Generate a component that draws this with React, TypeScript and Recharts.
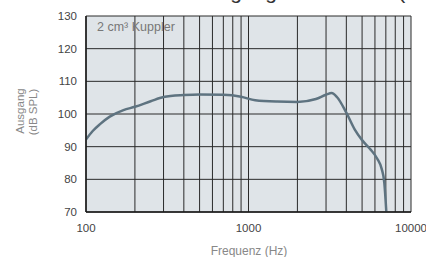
import { LineChart, Line, XAxis, YAxis, CartesianGrid } from 'recharts';

// Frequenzgang, 2 cm³ Kuppler
const frequencies = [
  100, 110, 122, 140, 170, 200, 250, 300, 400, 500, 700, 900, 1100, 1500, 2000,
  2600, 3000, 3250, 3500, 4000, 4500, 5000, 5600, 6200, 6600, 6850, 7050,
];
const levels = [
  92.2, 94.8, 96.9, 99.2, 101.2, 102.2, 103.9, 105.2, 105.8, 106.0, 105.9, 105.3, 104.2, 103.8, 103.7,
  104.6, 105.9, 106.4, 105.2, 100.4, 95.3, 92.0, 89.3, 86.3, 83.2, 79.0, 70.0,
];

const gridFrequencies = [
  100, 200, 300, 400, 500, 600, 700, 800, 900, 1000,
  2000, 3000, 4000, 5000, 6000, 7000, 8000, 9000, 10000,
];
const labeledFrequencies = [100, 1000, 10000];
const levelTicks = [70, 80, 90, 100, 110, 120, 130];

const data = frequencies.map((f, i) => ({ freq: f, level: levels[i] }));

const FONT = '"Liberation Sans", Arial, Helvetica, sans-serif';

export default function App() {
  return (
    <div
      style={{
        position: 'absolute',
        left: 0,
        top: 0,
        width: 426,
        height: 257,
        background: '#fff',
        fontFamily: FONT,
      }}
    >
      <LineChart
        width={426}
        height={257}
        data={data}
        margin={{ top: 16, right: 15, left: 0, bottom: 0 }}
      >
        <CartesianGrid fill="#dfe4e8" stroke="#2a2a2a" strokeWidth={1} />
        <XAxis
          dataKey="freq"
          type="number"
          scale="log"
          domain={[100, 10000]}
          ticks={gridFrequencies}
          interval={0}
          allowDataOverflow
          height={45}
          tickLine={false}
          tickMargin={5.5}
          tickFormatter={(v: number) => (labeledFrequencies.includes(v) ? String(v) : '')}
          tick={{ fontSize: 11.5, fill: '#444', fontFamily: FONT }}
          axisLine={{ stroke: '#1a1a1a', strokeWidth: 1.5 }}
        />
        <YAxis
          type="number"
          domain={[70, 130]}
          ticks={levelTicks}
          interval={0}
          width={86}
          tickLine={false}
          tickMargin={3}
          tick={{ fontSize: 11.5, fill: '#444', fontFamily: FONT }}
          axisLine={{ stroke: '#1a1a1a', strokeWidth: 1.5 }}
        />
        <Line
          dataKey="level"
          type="monotone"
          stroke="#5e7380"
          strokeWidth={2.5}
          dot={false}
          isAnimationActive={false}
        />
      </LineChart>
      <svg
        width={426}
        height={257}
        style={{ position: 'absolute', left: 0, top: 0, pointerEvents: 'none' }}
      >
        {/* title sits above the frame in the reference, only its descenders show */}
        <text x={194} y={-1} fontSize={21} fill="#333" fontFamily={FONT}>
          Ausgangsschalldruck (OSPL90)
        </text>
        <text x={97} y={31} fontSize={12.5} fill="#777" fontFamily={FONT}>
          2 cm³ Kuppler
        </text>
        <text
          x={20}
          y={111}
          fontSize={11.5}
          fill="#888"
          fontFamily={FONT}
          textAnchor="middle"
          dominantBaseline="central"
          transform="rotate(-90 20 111)"
        >
          Ausgang
        </text>
        <text
          x={33}
          y={112}
          fontSize={11.5}
          fill="#888"
          fontFamily={FONT}
          textAnchor="middle"
          dominantBaseline="central"
          transform="rotate(-90 33 112)"
        >
          (dB SPL)
        </text>
        <text x={249} y={255} fontSize={12} fill="#888" fontFamily={FONT} textAnchor="middle">
          Frequenz (Hz)
        </text>
      </svg>
    </div>
  );
}
